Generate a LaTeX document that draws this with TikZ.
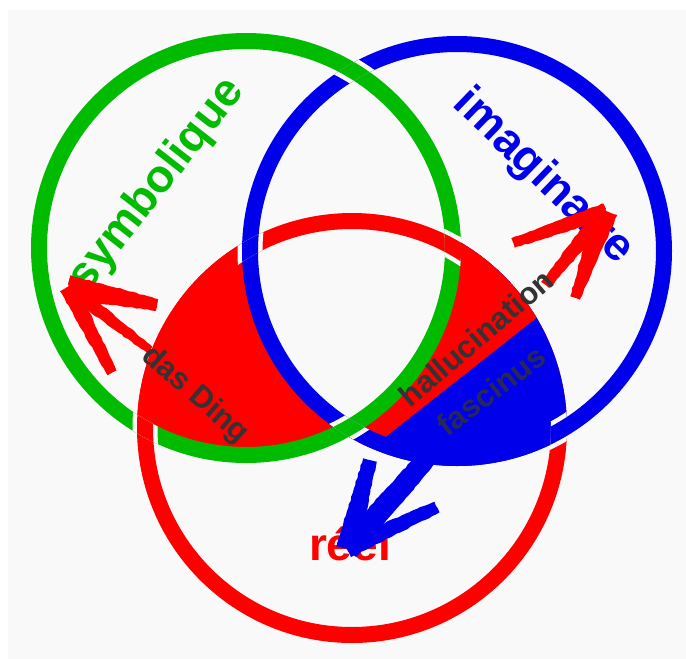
\documentclass[tikz,border=0pt]{standalone}
\usepackage{fontspec}
\setmainfont{Liberation Sans}
\usetikzlibrary{calc, decorations.pathmorphing}

\definecolor{fondgris}{RGB}{249,249,249}
\definecolor{vert}{RGB}{0,187,0}
\definecolor{bleu}{RGB}{0,0,235}
\definecolor{rouge}{RGB}{255,0,0}
\definecolor{gristexte}{RGB}{51,51,51}

\tikzset{
  anneau/.style={line width=16pt},
  coupure/.style={line width=25pt, draw=fondgris},
  grandlabel/.style={inner sep=0pt, text height=34pt, text depth=10pt, font=\fontsize{46}{50}\selectfont\bfseries},
  zonelabel/.style={inner sep=0pt, text height=23pt, text depth=7pt, text=gristexte, font=\fontsize{31}{36}\selectfont\bfseries},
  brush/.style={decorate, decoration={random steps, segment length=4pt, amplitude=0.6pt}}
}

% trait de pinceau: depart, arrivee, demi-largeur depart, demi-largeur arrivee, couleur
\newcommand{\brushstroke}[5]{%
  \fill[#5, brush] ($(#1)!#3!90:(#2)$) -- ($(#2)!#4!-90:(#1)$) -- ($(#2)!#4!90:(#1)$) -- ($(#1)!#3!-90:(#2)$) -- cycle;}

\begin{document}
\begin{tikzpicture}[x=1pt, y=-1pt]
  \useasboundingbox (0,0) rectangle (686,659);
  \fill[white] (0,0) rectangle (686,659);
  \fill[fondgris] (8,10) rectangle (686,659);

  \coordinate (cG) at (246,248);
  \coordinate (cB) at (457,251);
  \coordinate (cR) at (352,428);

  % === Anneau reel (sous les zones) ===
  \draw[anneau, rouge] (cR) circle[radius=207pt];

  % === Zones ===
  \begin{scope}
    \clip (cR) circle[radius=215pt];
    \clip (cG) circle[radius=207pt];
    \fill[rouge, even odd rule] (0,0) rectangle (686,659) (cB) circle[radius=207pt];
  \end{scope}
  \begin{scope}
    \clip (cR) circle[radius=215pt];
    \clip (cB) circle[radius=215pt];
    \fill[bleu, even odd rule] (0,0) rectangle (686,659) (cG) circle[radius=207pt];
    \fill[rouge, even odd rule] (170,607) -- (611,259) -- (611,100) -- (170,100) -- cycle (cG) circle[radius=207pt];
  \end{scope}

  % === Anneaux symbolique et imaginaire ===
  \draw[anneau, vert] (cG) circle[radius=207pt];
  \draw[anneau, bleu] (cB) circle[radius=207pt];

  % === Croisements ===
  % vert sur bleu
  \begin{scope}
    \clip ($(cB)+(215,0)$) arc[start angle=0, end angle=360, radius=215pt] -- cycle
          ($(cB)+(199,0)$) arc[start angle=0, end angle=-360, radius=199pt] -- cycle;
    \draw[coupure] (cG) circle[radius=207pt];
    \draw[anneau, vert] (cG) circle[radius=207pt];
  \end{scope}
  % rouge sur vert
  \begin{scope}
    \clip ($(cG)+(215,0)$) arc[start angle=0, end angle=360, radius=215pt] -- cycle
          ($(cG)+(199,0)$) arc[start angle=0, end angle=-360, radius=199pt] -- cycle;
    \draw[coupure] (cR) circle[radius=207pt];
    \draw[anneau, rouge] (cR) circle[radius=207pt];
  \end{scope}
  % bleu sur rouge
  \begin{scope}
    \clip ($(cR)+(215,0)$) arc[start angle=0, end angle=360, radius=215pt] -- cycle
          ($(cR)+(199,0)$) arc[start angle=0, end angle=-360, radius=199pt] -- cycle;
    \draw[coupure] (cB) circle[radius=207pt];
    \draw[anneau, bleu] (cB) circle[radius=207pt];
  \end{scope}

  % === Noms des anneaux ===
  \node (symb) [grandlabel, text=vert, rotate=52] at (157,185) {symbolique};
  \node (imag) [grandlabel, text=bleu, rotate=-44] at (543,177) {imaginaire};
  \node (reel) [grandlabel, text=rouge] at (350,548) {réel};

  % === Fleches ===
  \coordinate (pointeDing) at (68,287);
  \coordinate (queueDing) at (150,350);
  \coordinate (barbeDingA) at (157,305);
  \coordinate (barbeDingB) at (112,373);
  \brushstroke{pointeDing}{queueDing}{8pt}{4pt}{rouge}
  \brushstroke{pointeDing}{barbeDingA}{12pt}{6pt}{rouge}
  \brushstroke{pointeDing}{barbeDingB}{9pt}{5pt}{rouge}

  \coordinate (pointeHallu) at (606,211);
  \coordinate (queueHallu) at (545,285);
  \coordinate (barbeHalluA) at (513,243);
  \coordinate (barbeHalluB) at (575,298);
  \brushstroke{queueHallu}{pointeHallu}{5pt}{9pt}{rouge}
  \brushstroke{pointeHallu}{barbeHalluA}{8pt}{5pt}{rouge}
  \brushstroke{pointeHallu}{barbeHalluB}{12pt}{5pt}{rouge}

  \coordinate (pointeFasc) at (347,549);
  \coordinate (queueFasc) at (445,438);
  \coordinate (barbeFascA) at (370,460);
  \coordinate (barbeFascB) at (437,507);
  \brushstroke{queueFasc}{pointeFasc}{9pt}{12pt}{bleu}
  \brushstroke{pointeFasc}{barbeFascA}{11pt}{7pt}{bleu}
  \brushstroke{pointeFasc}{barbeFascB}{9pt}{6pt}{bleu}

  % === Zones nommees ===
  \node (ding) [zonelabel, rotate=-41] at (195,395) {das Ding};
  \node (hallu) [zonelabel, rotate=40.6] at (478,340) {hallucination};
  \node (fasc) [zonelabel, rotate=37, opacity=0.8] at (493,393) {fascinus};
\end{tikzpicture}
\end{document}
